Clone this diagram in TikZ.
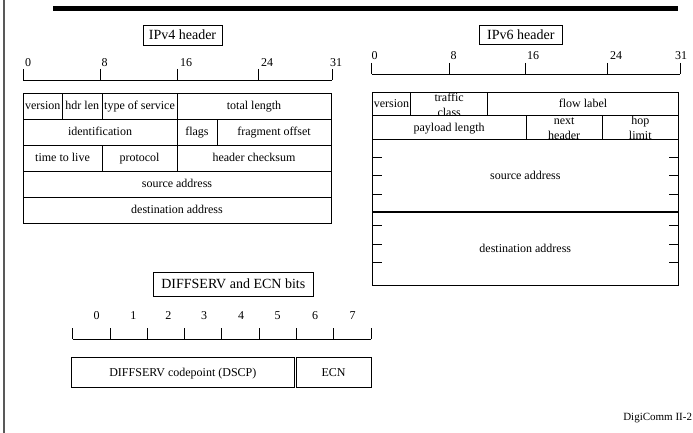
\documentclass[tikz,border=0pt]{standalone}
\usepackage{fontspec}
\setmainfont{Liberation Serif}
% one field of a header: name, x1, y1, x2, y2, label
\newcommand\fieldcell[6]{%
  \node[cell, minimum width={#4-#2}, minimum height={#5-#3}] (#1)
    at ({(#2+#4)/2},{(#3+#5)/2}) {#6};}
\begin{document}
\begin{tikzpicture}[x=1pt,y=-1pt,
  every node/.style={inner sep=0pt, outer sep=0pt},
  cell/.style={draw, line width=0.9pt, text height=8.5pt, text depth=1pt,
    font=\fontsize{12}{14}\selectfont},
  title/.style={draw, line width=0.9pt, text height=9.5pt, text depth=1pt,
    font=\fontsize{14}{16}\selectfont},
  lbl/.style={font=\fontsize{12}{14}\selectfont},
  num/.style={font=\fontsize{12}{14}\selectfont, anchor=base west},
  dnum/.style={font=\fontsize{12}{14}\selectfont, anchor=base},
  rule/.style={line width=0.9pt},
]
\useasboundingbox (0,0) rectangle (693,433);

% slide frame pieces
\fill (53,6) rectangle (678,11);
\draw[black!65, line width=1.3pt] (4,0) -- (4,433);

% ---------------- IPv4 header ----------------
\node[title, minimum width=79, minimum height=20] (v4title) at (182.5,35) {IPv4 header};
\draw[rule] (23,80) -- (332,80);
\foreach \t in {23,100,177,258,332} \draw[rule] (\t,69) -- (\t,80);
\node[num] (v4n0)  at (25,67)    {0};
\node[num] (v4n8)  at (101.5,67) {8};
\node[num] (v4n16) at (180,67)   {16};
\node[num] (v4n24) at (261,67)   {24};
\node[num] (v4n31) at (330,67)   {31};

\fieldcell{v4ver}{23}{93}{62.5}{119}{version}
\fieldcell{v4hl}{62.5}{93}{102}{119}{hdr len}
\fieldcell{v4tos}{102}{93}{177}{119}{type of service}
\fieldcell{v4len}{177}{93}{331}{119}{total length}
\fieldcell{v4id}{23}{119}{177}{145}{identification}
\fieldcell{v4flags}{177}{119}{217}{145}{flags}
\fieldcell{v4frag}{217}{119}{331}{145}{fragment offset}
\fieldcell{v4ttl}{23}{145}{102}{171}{time to live}
\fieldcell{v4proto}{102}{145}{177}{171}{protocol}
\fieldcell{v4sum}{177}{145}{331}{171}{header checksum}
\fieldcell{v4src}{23}{171}{331}{197}{source address}
\fieldcell{v4dst}{23}{197}{331}{223}{destination address}

% ---------------- IPv6 header ----------------
\node[title, minimum width=83, minimum height=19] (v6title) at (520.8,35.2) {IPv6 header};
\draw[rule] (371.7,74) -- (680,74);
\foreach \t in {371.7,449,525.7,607,680} \draw[rule] (\t,63) -- (\t,74);
\node[num] (v6n0)  at (371.5,60) {0};
\node[num] (v6n8)  at (450.5,60) {8};
\node[num] (v6n16) at (527,60)   {16};
\node[num] (v6n24) at (610,60)   {24};
\node[num] (v6n31) at (675,60)   {31};

% two-line labels, cut off by the cell border
\begin{scope}
  \clip (410.7,92.7) rectangle (487.7,115.7);
  \node[lbl, anchor=base] (tc1) at (449.2,101.5) {traffic};
  \node[lbl, anchor=base] (tc2) at (449.2,116.5) {class};
\end{scope}
\begin{scope}
  \clip (526,115.7) rectangle (602.3,139);
  \node[lbl, anchor=base] (nh1) at (564.2,124.5) {next};
  \node[lbl, anchor=base] (nh2) at (564.2,139.5) {header};
\end{scope}
\begin{scope}
  \clip (602.3,115.7) rectangle (678.3,139);
  \node[lbl, anchor=base] (hl1) at (640.3,124.5) {hop};
  \node[lbl, anchor=base] (hl2) at (640.3,139.5) {limit};
\end{scope}

\fieldcell{v6ver}{372.3}{92.7}{410.7}{115.7}{version}
\fieldcell{v6tc}{410.7}{92.7}{487.7}{115.7}{}
\fieldcell{v6fl}{487.7}{92.7}{678.3}{115.7}{flow label}
\fieldcell{v6pl}{372.3}{115.7}{526}{139}{payload length}
\fieldcell{v6nh}{526}{115.7}{602.3}{139}{}
\fieldcell{v6hl}{602.3}{115.7}{678.3}{139}{}
\fieldcell{v6src}{372.3}{139}{678.3}{211.7}{source address}
\fieldcell{v6dst}{372.3}{211.7}{678.3}{285}{destination address}
\draw[line width=2pt] (v6dst.north west) -- (v6dst.north east);
\foreach \y in {157.3,175.7,194,225,244,262.3} {
  \draw[rule] (372.3,\y) -- (381.5,\y);
  \draw[rule] (669,\y) -- (678.3,\y);
}

% ---------------- DIFFSERV / ECN ----------------
\node[title, minimum width=160, minimum height=24] (dstitle) at (233.3,284.7) {DIFFSERV and ECN bits};
\draw[rule] (72.7,339) -- (371,339);
\foreach \k in {0,...,8} \draw[rule] ({72.7+37.29*\k},328.3) -- ({72.7+37.29*\k},339);
\foreach \k/\x in {0/96.7,1/133.3,2/168.3,3/204,4/241,5/277.7,6/315,7/352.7}
  \node[dnum] (dn\k) at (\x,319.5) {\k};
\fieldcell{dscp}{71.7}{357.3}{294}{387.3}{DIFFSERV codepoint (DSCP)}
\fieldcell{ecn}{296}{357.3}{371}{387.3}{ECN}

% footer
\node[font=\fontsize{11}{13}\selectfont, anchor=base east] (foot) at (692,420) {DigiComm II-2};
\end{tikzpicture}
\end{document}
